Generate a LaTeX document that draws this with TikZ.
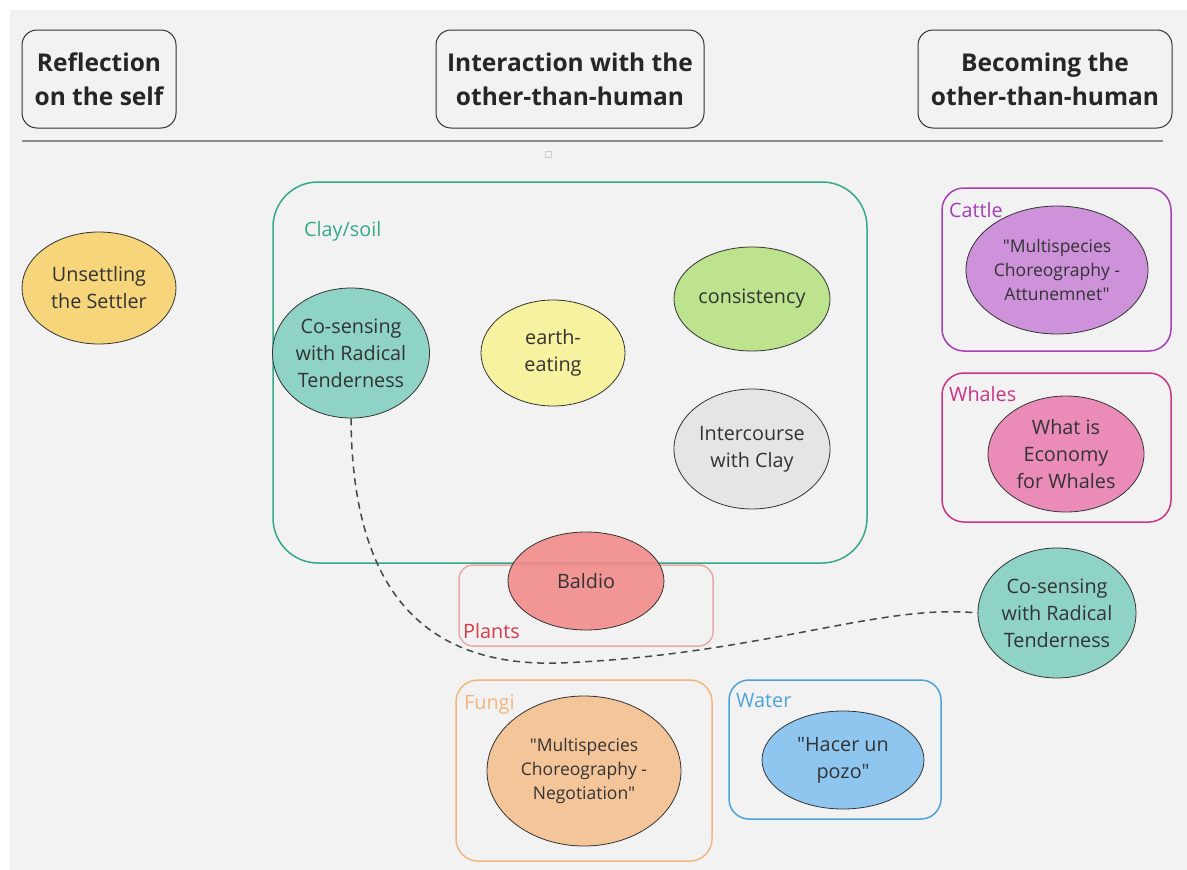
\documentclass[tikz,border=0pt]{standalone}
\usepackage{fontspec}
\setmainfont{Open Sans}[Ligatures=TeXOff]
\usetikzlibrary{shapes.geometric}

\definecolor{ink}{HTML}{333333}
\definecolor{bgpaper}{HTML}{F2F2F2}
\definecolor{clayline}{HTML}{35A88C}
\definecolor{cosfill}{HTML}{8ED3C5}
\definecolor{eatfill}{HTML}{F7F2A0}
\definecolor{consfill}{HTML}{BDE38E}
\definecolor{intfill}{HTML}{E5E5E5}
\definecolor{baldfill}{HTML}{F28B8B}
\definecolor{plantline}{HTML}{E8A9A9}
\definecolor{plantlabel}{HTML}{D83A48}
\definecolor{fungiline}{HTML}{F2B57E}
\definecolor{fungifill}{HTML}{F5C59A}
\definecolor{waterline}{HTML}{4DA3D9}
\definecolor{waterfill}{HTML}{8FC6F0}
\definecolor{cattleline}{HTML}{A53FB5}
\definecolor{cattlefill}{HTML}{CD92DA}
\definecolor{whaleline}{HTML}{C83587}
\definecolor{whalefill}{HTML}{EB8CB8}
\definecolor{unsetfill}{HTML}{F6D57B}

\tikzset{
  header/.style={draw=ink, line width=1pt, rounded corners=15pt, align=center,
    text=black!85, font=\fontsize{24.5}{34}\selectfont\bfseries, inner sep=0pt},
  idea/.style={ellipse, draw=ink, line width=0.8pt, align=center, inner sep=0pt,
    text=ink, font=\fontsize{19.8}{27}\selectfont},
  quoted/.style={font=\fontsize{17.5}{24}\selectfont},
  groupbox/.style={rounded corners=#1, line width=1.5pt},
  grouplabel/.style={anchor=base west, font=\fontsize{19.8}{22}\selectfont, inner sep=0pt},
  link/.style={draw=ink!90, line width=1.5pt, dash pattern=on 7pt off 5pt},
}

\begin{document}
\begin{tikzpicture}[x=1pt, y=-1pt]
  % paper
  \fill[white] (0,0) rectangle (1187,870);
  \fill[bgpaper] (10,10) rectangle (1187,870);
  \useasboundingbox (0,0) rectangle (1187,870);

  % column headers
  \node[header, minimum width=154pt, minimum height=98pt] (hself) at (99,79) {Reflection\\on the self};
  \node[header, minimum width=268pt, minimum height=98pt] (hinter) at (570,79) {Interaction with the\\other-than-human};
  \node[header, minimum width=254pt, minimum height=98pt] (hbecome) at (1045,79) {Becoming the\\other-than-human};

  \draw[black!45, line width=2pt] (22,141) -- (1163,141);
  \draw[black!20, line width=0.8pt, fill=bgpaper] (545,151) rectangle (551,157);

  % group frames
  \draw[groupbox=45pt, draw=clayline] (273,182) rectangle (867,563);
  \node[grouplabel, text=clayline] (lclay) at (304,236) {Clay/soil};

  \draw[groupbox=14pt, draw=plantline] (459,565) rectangle (713,646);
  \node[grouplabel, text=plantlabel] (lplants) at (463,638) {Plants};

  \draw[groupbox=22pt, draw=fungiline] (456,680) rectangle (712,861);
  \node[grouplabel, text=fungiline] (lfungi) at (464,709) {Fungi};

  \draw[groupbox=20pt, draw=waterline] (729,680) rectangle (941,819);
  \node[grouplabel, text=waterline] (lwater) at (736,707) {Water};

  \draw[groupbox=22pt, draw=cattleline] (942,188) rectangle (1171,351);
  \draw[groupbox=22pt, draw=whaleline] (942,373) rectangle (1171,522);

  % ideas
  \node[idea, fill=unsetfill, minimum width=154pt, minimum height=112pt] (unsettle) at (99,288) {Unsettling\\the Settler};

  \node[idea, fill=cosfill, minimum width=157pt, minimum height=130pt] (cosleft) at (351,353) {Co-sensing\\with Radical\\Tenderness};
  \node[idea, fill=eatfill, minimum width=144pt, minimum height=106pt] (eat) at (553,353) {earth-\\eating};
  \node[idea, fill=consfill, minimum width=156pt, minimum height=104pt] (cons) at (752,299) {consistency};
  \node[idea, fill=intfill, minimum width=156pt, minimum height=120pt] (inter) at (752,449) {Intercourse\\with Clay};

  \node[idea, fill=baldfill, fill opacity=0.9, text opacity=1, minimum width=156pt, minimum height=98pt] (baldio) at (586,581) {Baldio};

  \node[idea, quoted, fill=fungifill, minimum width=194pt, minimum height=150pt] (negot) at (584,771)
    {"Multispecies\\Choreography -\\Negotiation"};
  \node[idea, fill=waterfill, minimum width=162pt, minimum height=98pt] (pozo) at (843,760) {"Hacer un\\pozo"};

  \node[idea, quoted, fill=cattlefill, minimum width=182pt, minimum height=128pt] (attune) at (1057,270)
    {"Multispecies\\Choreography -\\Attunemnet"};
  \node[idea, fill=whalefill, minimum width=156pt, minimum height=116pt] (econ) at (1066,454) {What is\\Economy\\for Whales};

  \node[idea, fill=cosfill, minimum width=158pt, minimum height=130pt] (cosright) at (1057,613) {Co-sensing\\with Radical\\Tenderness};

  % labels that sit over their ellipses
  \node[grouplabel, text=cattleline] (lcattle) at (949,217) {Cattle};
  \node[grouplabel, text=whaleline] (lwhales) at (949,401) {Whales};

  % link between the two co-sensing ideas
  \draw[link] (cosleft.south) .. controls (352,560) and (400,668) .. (560,663)
    .. controls (760,655) and (880,603) .. (cosright.west);
\end{tikzpicture}
\end{document}
